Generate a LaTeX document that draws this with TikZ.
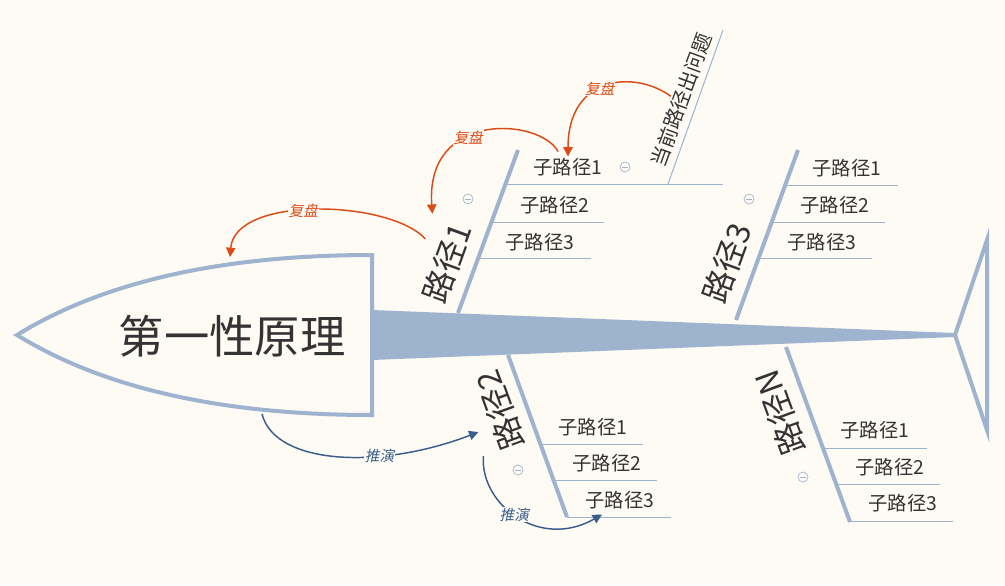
\documentclass[tikz,border=0pt]{standalone}
\usepackage{fontspec}
\setmainfont{Noto Sans CJK SC}
\newfontfamily\slfont[FakeSlant=0.2]{Noto Sans CJK SC}
\usetikzlibrary{arrows.meta}
\definecolor{bgcol}{HTML}{FEFBF4}
\definecolor{bonecol}{HTML}{9DB3CE}
\definecolor{inkcol}{HTML}{333333}
\definecolor{redcol}{HTML}{DC4A16}
\definecolor{bluecol}{HTML}{3A5E8C}

\begin{document}
\begin{tikzpicture}[x=0.75pt,y=-0.75pt,
    rib/.style={draw=bonecol,line width=3pt},
    twig/.style={draw=bonecol,line width=0.75pt},
    leaf/.style={text=inkcol,font=\fontsize{14.5}{17}\selectfont,inner sep=1pt},
    limb/.style={text=inkcol,font=\fontsize{24}{28}\selectfont,inner sep=2pt},
    fold/.style={circle,draw=bonecol,line width=0.5pt,minimum size=7.5pt,inner sep=0pt,
        path picture={\draw[bonecol,line width=0.5pt] ([xshift=-2pt]path picture bounding box.center) -- ([xshift=2pt]path picture bounding box.center);}},
    tag/.style={font=\slfont\fontsize{11}{13}\selectfont,fill=bgcol,inner sep=0.5pt,text=#1},
    replay/.style={draw=redcol,line width=1.1pt,-{Triangle[length=7pt,width=7pt]}},
    deduce/.style={draw=bluecol,line width=1.1pt,-{Triangle[length=7pt,width=7pt]}}]

\fill[bgcol] (0,0) rectangle (1005,585);
\useasboundingbox (0,0) rectangle (1005,585);

\fill[bonecol] (372,310) -- (955,333) -- (955,337) -- (372,360) -- cycle;
\draw[bonecol,line width=3pt,line join=miter] (955,335) -- (987,240) -- (987,430) -- cycle;
\draw[bonecol,line width=3pt,fill=bgcol] (372,255) -- (372,415)
    .. controls (200,415) and (90,380) .. (17,335)
    .. controls (90,290) and (200,255) .. cycle;
\node[text=inkcol,font=\fontsize{34}{38}\selectfont] (root) at (232,336) {第一性原理};
\coordinate (headtop) at (230,257);
\coordinate (headbot) at (262,414);

\coordinate (b1a) at (458,313);
\coordinate (b1b) at (518,150);
\coordinate (b2a) at (508,355);
\coordinate (b2b) at (567,517);
\coordinate (b3a) at (736,320);
\coordinate (b3b) at (798,150);
\coordinate (bNa) at (786,347);
\coordinate (bNb) at (850,522);
\draw[rib] (b1a) -- (b1b);
\draw[rib] (b2a) -- (b2b);
\draw[rib] (b3a) -- (b3b);
\draw[rib] (bNa) -- (bNb);

\draw[twig] (505,184) -- (723,184);
\draw[twig] (492,222) -- (604,222);
\draw[twig] (479,258) -- (591,258);
\draw[twig] (668,184) -- (723,30);
\draw[twig] (785,185) -- (898,185);
\draw[twig] (772,222) -- (885,222);
\draw[twig] (759,258) -- (872,258);
\draw[twig] (540,444) -- (643,444);
\draw[twig] (553,480) -- (657,480);
\draw[twig] (567,517) -- (671,517);
\draw[twig] (823,448) -- (927,448);
\draw[twig] (836,484) -- (940,484);
\draw[twig] (850,521) -- (953,521);

\node[limb,rotate=70] (p1) at (447,263) {路径1};
\node[limb,rotate=70] (p3) at (727,263) {路径3};
\node[limb,rotate=110] (p2) at (500,410) {路径2};
\node[limb,rotate=110] (pN) at (780,413) {路径N};

\node[leaf] (s11) at (568,167) {子路径1};
\node[leaf] (s12) at (555,205) {子路径2};
\node[leaf] (s13) at (540,242) {子路径3};
\node[leaf,font=\fontsize{15}{18}\selectfont,rotate=70] (q) at (681,100) {当前路径出问题};
\node[leaf] (s31) at (847,168) {子路径1};
\node[leaf] (s32) at (835,205) {子路径2};
\node[leaf] (s33) at (822,242) {子路径3};
\node[leaf] (s21) at (593,427) {子路径1};
\node[leaf] (s22) at (607,463) {子路径2};
\node[leaf] (s23) at (620,500) {子路径3};
\node[leaf] (sN1) at (875,430) {子路径1};
\node[leaf] (sN2) at (890,467) {子路径2};
\node[leaf] (sN3) at (903,503) {子路径3};

\node[fold] (f1) at (468,199) {};
\node[fold] (f11) at (625,167) {};
\node[fold] (f3) at (749,199) {};
\node[fold] (f2) at (518,470) {};
\node[fold] (fN) at (803,477) {};

\draw[replay] (q.north) .. controls (635,70) and (568,75) .. node[tag=redcol,pos=0.55] {复盘} (s11.north);
\draw[replay] ([shift={(-10,-5)}]s11.north) .. controls (540,118) and (425,110) .. node[tag=redcol,pos=0.6] {复盘} ([shift={(-13,-2)}]p1.north east);
\draw[replay] ([shift={(-5,-18)}]p1.north) .. controls (390,200) and (235,195) .. node[tag=redcol,pos=0.55] {复盘} (headtop);
\draw[deduce] (headbot) .. controls (275,465) and (380,470) .. node[tag=bluecol,pos=0.66] {推演} ([shift={(-5,16)}]p2.north);
\draw[deduce] ([shift={(-15,-1)}]p2.north west) .. controls (480,505) and (540,550) .. node[tag=bluecol,pos=0.47] {推演} ([shift={(-18,4)}]s23.south);
\end{tikzpicture}
\end{document}
